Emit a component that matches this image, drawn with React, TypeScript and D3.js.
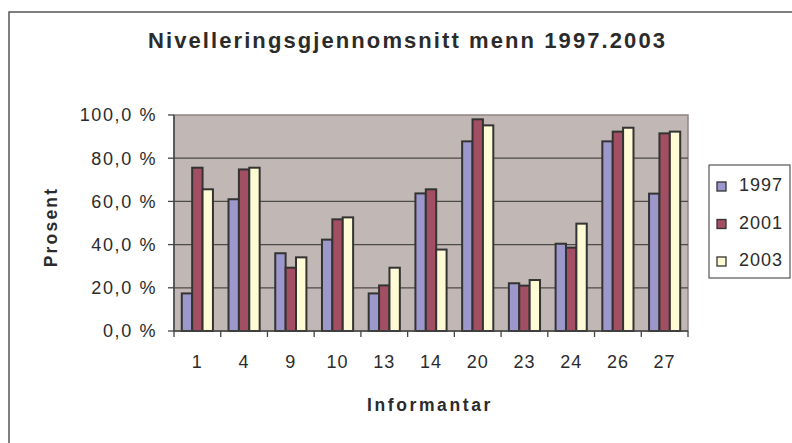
import React from 'react';
import * as d3 from 'd3';

const categories = ['1', '4', '9', '10', '13', '14', '20', '23', '24', '26', '27'];
const seriesNames = ['1997', '2001', '2003'];
const values1997 = [17.4, 61.0, 36.0, 42.3, 17.4, 63.7, 87.8, 22.1, 40.4, 87.8, 63.6];
const values2001 = [75.6, 74.8, 29.3, 51.7, 21.1, 65.6, 98.0, 21.0, 38.6, 92.3, 91.5];
const values2003 = [65.6, 75.6, 34.1, 52.6, 29.3, 37.7, 95.2, 23.6, 49.7, 94.1, 92.3];
const yTicks = [0, 20, 40, 60, 80, 100];

const seriesValues = [values1997, values2001, values2003];
const seriesColors = ['#9c98cb', '#a34f63', '#fffcd5'];

const W = 792;
const H = 443;
const plot = { left: 174, right: 688, top: 115, bottom: 331 };
const font = '"Liberation Sans", Arial, sans-serif';
const textColor = '#2b2b2b';

const App: React.FC = () => {
  const x = d3.scaleBand<string>()
    .domain(categories)
    .range([plot.left, plot.right])
    .padding(0);

  const y = d3.scaleLinear()
    .domain([0, 100])
    .range([plot.bottom, plot.top]);

  // Excel-style clustered bars: gap width 150%
  const bw = x.bandwidth();
  const barW = bw / 4.5;
  const groupOffset = (bw - barW * 3) / 2;

  const fmt = (v: number) => d3.format('.1f')(v).replace('.', ',') + ' %';

  const legendRows = seriesNames.map((name, i) => ({ name, color: seriesColors[i], baseline: 191 + i * 37.5 }));

  return (
    <svg width={W} height={H} style={{ position: 'absolute', left: 0, top: 0, background: '#fff' }}>
      {/* chart border */}
      <rect x={9} y={12} width={W} height={H} fill="#fff" stroke="#555" strokeWidth={1.5} />

      {/* title */}
      <text
        x={406.5}
        y={47.5}
        textAnchor="middle"
        fontFamily={font}
        fontWeight="bold"
        fontSize={22}
        fill={textColor}
        textLength={517}
        lengthAdjust="spacing"
      >
        Nivelleringsgjennomsnitt menn 1997.2003
      </text>

      {/* plot background */}
      <rect x={plot.left} y={plot.top} width={plot.right - plot.left} height={plot.bottom - plot.top} fill="#c1b8b5" stroke="#8e8482" strokeWidth={1.5} />

      {/* gridlines */}
      {yTicks.filter(t => t > 0 && t < 100).map(t => (
        <line key={t} x1={plot.left} x2={plot.right} y1={y(t)} y2={y(t)} stroke="#4d4a4a" strokeWidth={1.3} />
      ))}

      {/* bars */}
      {seriesValues.map((vals, si) => (
        <g key={si}>
          {categories.map((c, ci) => (
            <rect
              key={c}
              x={(x(c) || 0) + groupOffset + si * barW}
              y={y(vals[ci])}
              width={barW}
              height={y(0) - y(vals[ci])}
              fill={seriesColors[si]}
              stroke="#333"
              strokeWidth={2}
            />
          ))}
        </g>
      ))}

      {/* axes */}
      <line x1={plot.left} x2={plot.left} y1={plot.top} y2={plot.bottom} stroke="#444" strokeWidth={1.5} />
      <line x1={plot.left} x2={plot.right} y1={plot.bottom} y2={plot.bottom} stroke="#444" strokeWidth={1.5} />

      {yTicks.map(t => (
        <g key={t}>
          <line x1={plot.left - 6} x2={plot.left} y1={y(t)} y2={y(t)} stroke="#444" strokeWidth={1.3} />
          <text
            x={157}
            y={y(t)}
            dy="0.35em"
            textAnchor="end"
            fontFamily={font}
            fontSize={18}
            letterSpacing={1.6}
            fill={textColor}
          >
            {fmt(t)}
          </text>
        </g>
      ))}

      {categories.map(c => (
        <g key={c}>
          <line x1={(x(c) || 0)} x2={(x(c) || 0)} y1={plot.bottom} y2={plot.bottom + 6} stroke="#444" strokeWidth={1.3} />
          <text
            x={(x(c) || 0) + bw / 2}
            y={362}
            dy="0.35em"
            textAnchor="middle"
            fontFamily={font}
            fontSize={18}
            letterSpacing={1}
            fill={textColor}
          >
            {c}
          </text>
        </g>
      ))}
      <line x1={plot.right} x2={plot.right} y1={plot.bottom} y2={plot.bottom + 6} stroke="#444" strokeWidth={1.3} />

      {/* axis titles */}
      <text
        x={430}
        y={405}
        dy="0.35em"
        textAnchor="middle"
        fontFamily={font}
        fontWeight="bold"
        fontSize={17.5}
        letterSpacing={2.6}
        fill={textColor}
      >
        Informantar
      </text>
      <text
        transform="translate(50.5,227) rotate(-90)"
        dy="0.35em"
        textAnchor="middle"
        fontFamily={font}
        fontWeight="bold"
        fontSize={17.5}
        letterSpacing={2.2}
        fill={textColor}
      >
        Prosent
      </text>

      {/* legend */}
      <rect x={709} y={165} width={81} height={113} fill="#fff" stroke="#555" strokeWidth={1.2} />
      {legendRows.map(r => (
        <g key={r.name}>
          <rect x={717} y={r.baseline - 9} width={9} height={9} fill={r.color} stroke="#333" strokeWidth={1.3} />
          <text x={739} y={r.baseline} fontFamily={font} fontSize={18} letterSpacing={1} fill={textColor}>
            {r.name}
          </text>
        </g>
      ))}
    </svg>
  );
};

export default App;
